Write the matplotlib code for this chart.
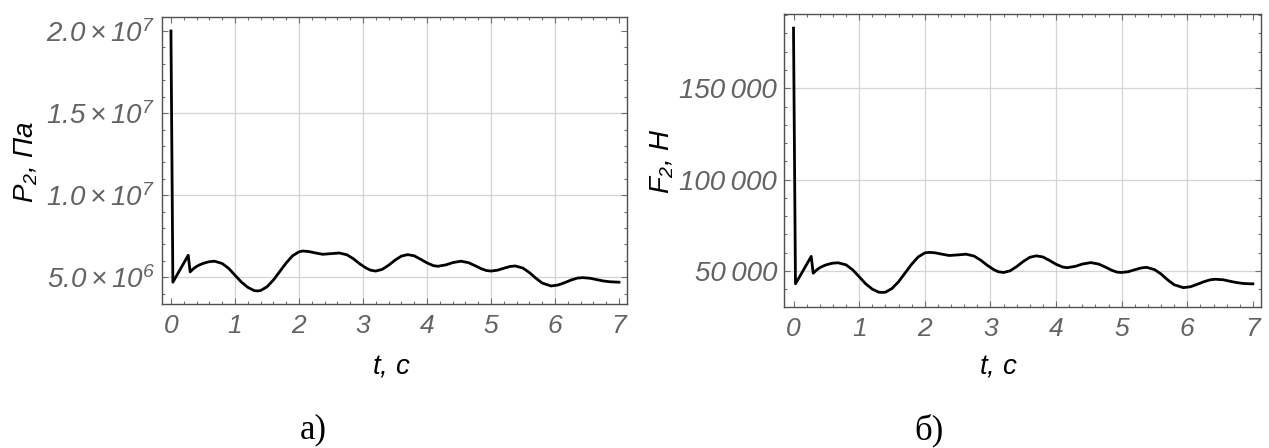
import matplotlib
matplotlib.use("Agg")
import matplotlib.pyplot as plt
from matplotlib.ticker import MultipleLocator

plt.rcParams["font.family"] = ["Liberation Sans", "DejaVu Sans"]
plt.rcParams["mathtext.fontset"] = "custom"
plt.rcParams["mathtext.rm"] = "Liberation Sans:italic"
plt.rcParams["mathtext.it"] = "Liberation Sans:italic"

# time, s
t = [0.00, 0.03, 0.10, 0.20, 0.27, 0.30, 0.35, 0.40, 0.45, 0.50,
     0.55, 0.60, 0.68, 0.80, 0.90, 1.00, 1.10, 1.20, 1.30, 1.35,
     1.40, 1.50, 1.60, 1.70, 1.80, 1.90, 2.00, 2.06, 2.15, 2.25,
     2.37, 2.50, 2.63, 2.75, 2.85, 2.95, 3.05, 3.12, 3.20, 3.30,
     3.40, 3.50, 3.60, 3.70, 3.80, 3.90, 4.00, 4.10, 4.17, 4.30,
     4.40, 4.53, 4.65, 4.75, 4.85, 4.93, 5.00, 5.10, 5.20, 5.30,
     5.38, 5.50, 5.60, 5.70, 5.80, 5.94, 6.05, 6.15, 6.25, 6.35,
     6.43, 6.55, 6.65, 6.75, 6.85, 6.95, 7.00]

# pressure P2, MPa (x 1e6 Pa)
p2_mpa = [20.0, 4.70, 5.18, 5.86, 6.34, 5.33, 5.52, 5.66, 5.76, 5.84,
          5.90, 5.95, 5.98, 5.84, 5.55, 5.13, 4.71, 4.39, 4.19, 4.17,
          4.19, 4.42, 4.83, 5.35, 5.87, 6.31, 6.55, 6.60, 6.57, 6.49,
          6.40, 6.44, 6.48, 6.37, 6.13, 5.82, 5.56, 5.43, 5.38, 5.48,
          5.73, 6.04, 6.29, 6.38, 6.31, 6.10, 5.88, 5.71, 5.67, 5.76,
          5.89, 5.98, 5.89, 5.71, 5.52, 5.41, 5.38, 5.43, 5.55, 5.66,
          5.69, 5.56, 5.29, 4.95, 4.65, 4.47, 4.53, 4.67, 4.83, 4.95,
          4.98, 4.94, 4.86, 4.78, 4.73, 4.71, 4.70]

# force F2, kN
f2_kn = [182.9, 43.0, 47.3, 53.6, 58.0, 48.8, 50.5, 51.8, 52.7, 53.4,
         53.9, 54.3, 54.5, 53.4, 50.7, 46.9, 43.0, 40.1, 38.4, 38.3,
         38.4, 40.4, 44.1, 48.9, 53.7, 57.7, 59.9, 60.2, 60.0, 59.3,
         58.5, 58.8, 59.2, 58.2, 56.0, 53.2, 50.8, 49.6, 49.2, 50.1,
         52.4, 55.2, 57.5, 58.3, 57.7, 55.8, 53.7, 52.2, 51.8, 52.6,
         53.8, 54.6, 53.8, 52.2, 50.4, 49.4, 49.2, 49.6, 50.7, 51.7,
         52.0, 50.8, 48.4, 45.2, 42.5, 40.9, 41.4, 42.7, 44.1, 45.2,
         45.5, 45.2, 44.4, 43.7, 43.2, 43.0, 43.0]

p2 = [v * 1e6 for v in p2_mpa]
f2 = [v * 1e3 for v in f2_kn]

x_ticks = [0, 1, 2, 3, 4, 5, 6, 7]
x_grid = [1, 2, 3, 4, 5, 6]

p_ticks = [5e6, 1e7, 1.5e7, 2e7]
p_labels = [r"$5.0\times10^{6}$", r"$1.0\times10^{7}$",
            r"$1.5\times10^{7}$", r"$2.0\times10^{7}$"]
p_grid = [5e6, 1e7, 1.5e7]

f_ticks = [50000, 100000, 150000]
f_labels = ["50\u2009000", "100\u2009000", "150\u2009000"]
f_grid = [50000, 100000, 150000]

tick_gray = "#636363"
grid_gray = "#d4d4d4"

fig = plt.figure(figsize=(12.69, 4.48), dpi=100)
ax1 = fig.add_axes([0.1274, 0.3208, 0.3664, 0.6406])
ax2 = fig.add_axes([0.6178, 0.3147, 0.3757, 0.6551])


def style(ax, yticks, ylabels, ygrid, yminor, ylim, ylabel, xlab_pos, ylab_pos, ysize):
    for g in x_grid:
        ax.axvline(g, color=grid_gray, lw=0.9, zorder=0)
    for g in ygrid:
        ax.axhline(g, color=grid_gray, lw=0.9, zorder=0)
    ax.set_xlim(-0.145, 7.12)
    ax.set_ylim(*ylim)
    ax.set_xticks(x_ticks)
    ax.set_xticklabels([str(v) for v in x_ticks])
    ax.set_yticks(yticks)
    ax.set_yticklabels(ylabels)
    ax.xaxis.set_minor_locator(MultipleLocator(0.2))
    ax.yaxis.set_minor_locator(MultipleLocator(yminor))
    ax.tick_params(which="both", direction="in", top=True, right=True,
                   color="#707070", width=0.8)
    ax.tick_params(which="major", length=4)
    ax.tick_params(which="minor", length=2.5)
    ax.tick_params(axis="x", which="major", pad=7, labelsize=19, labelcolor=tick_gray)
    ax.tick_params(axis="y", which="major", pad=5, labelsize=ysize, labelcolor=tick_gray)
    for lab in ax.get_xticklabels() + ax.get_yticklabels():
        lab.set_fontstyle("italic")
    for sp in ax.spines.values():
        sp.set_color("#505050")
        sp.set_linewidth(1.0)
    ax.set_xlabel("$t$, c", fontsize=20, fontstyle="italic", color="black")
    ax.xaxis.set_label_coords(*xlab_pos)
    ax.xaxis.label.set_va("center")
    ax.set_ylabel(ylabel, fontsize=20, fontstyle="italic", color="black")
    ax.yaxis.set_label_coords(*ylab_pos)
    ax.yaxis.label.set_va("center")


ax1.plot(t, p2, color="black", lw=2.0, solid_joinstyle="round")
style(ax1, p_ticks, p_labels, p_grid, 1e6, (3.356e6, 2.0834e7),
      "$P_2$, Па", (0.4946, -0.2174), (-0.292, 0.496), 20)

ax2.plot(t, f2, color="black", lw=2.0, solid_joinstyle="round")
style(ax2, f_ticks, f_labels, f_grid, 10000, (30300, 190900),
      "$F_2$, Н", (0.449, -0.204), (-0.256, 0.497), 20)

fig.text(313 / 1269, 1 - 430 / 448, "а)", family="Liberation Serif",
         fontsize=25, ha="center", va="center")
fig.text(929 / 1269, 1 - 430 / 448, "б)", family="Liberation Serif",
         fontsize=25, ha="center", va="center")

fig.savefig("out.png", dpi=100)
